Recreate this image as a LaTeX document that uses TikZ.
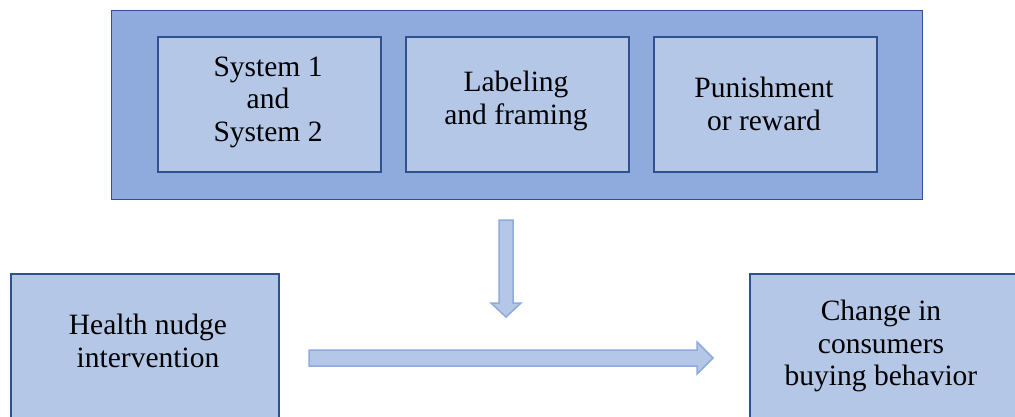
\documentclass[tikz,border=0pt]{standalone}
\usepackage{fontspec}
\setmainfont{Liberation Serif}
\definecolor{outerfill}{HTML}{8FAADC}
\definecolor{innerfill}{HTML}{B4C7E7}
\definecolor{edge}{HTML}{2F528F}
\definecolor{arrowedge}{HTML}{8FAADC}
\tikzset{
  box/.style={draw=edge, line width=1.6pt, fill=innerfill, anchor=north west, inner sep=0pt},
  outerbox/.style={draw=edge, line width=1.2pt, fill=outerfill, anchor=north west, inner sep=0pt},
  txt/.style={align=center, font=\fontsize{29.5}{32.5}\selectfont, inner sep=0pt},
  bigarrow/.style={draw=arrowedge, line width=1.5pt, fill=innerfill, line join=miter}
}
\begin{document}
\begin{tikzpicture}[x=1pt,y=-1pt]
\useasboundingbox (0,0) rectangle (1015,416);
\fill[white] (0,0) rectangle (1015,416);
% outer container
\node[outerbox, minimum width=811pt, minimum height=189pt] (outer) at (111,10) {};
% inner boxes
\node[box, minimum width=223pt, minimum height=135pt] (s) at (157,36) {};
\node[box, minimum width=223pt, minimum height=135pt] (l) at (405,36) {};
\node[box, minimum width=223pt, minimum height=135pt] (p) at (653,36) {};
\node[txt] (st) at (268,102) {System 1\\and\\System 2};
\node[txt] (lt) at (516,101) {Labeling\\and framing};
\node[txt] (pt) at (764,104) {Punishment\\or reward};
% bottom boxes
\begin{scope}
\clip (0,0) rectangle (1015,416);
\node[box, minimum width=268pt, minimum height=170pt] (hn) at (10,273) {};
\node[box, minimum width=290pt, minimum height=170pt] (cb) at (749,273) {};
\end{scope}
\node[txt] (hnt) at (148,341) {Health nudge\\intervention};
\node[txt] (cbt) at (881,346) {Change in\\consumers\\buying behavior};
% down arrow
\coordinate (dtop) at (506,220);
\coordinate (dtip) at (506,317);
\draw[bigarrow] (499,220) -- (513,220) -- (513,303) -- (521,303) -- (dtip) -- (491,303) -- (499,303) -- cycle;
% horizontal arrow
\coordinate (hstart) at (309,358);
\coordinate (htip) at (713,358);
\draw[bigarrow] (309,350) -- (697,350) -- (697,342) -- (htip) -- (697,374) -- (697,366) -- (309,366) -- cycle;
\end{tikzpicture}
\end{document}
